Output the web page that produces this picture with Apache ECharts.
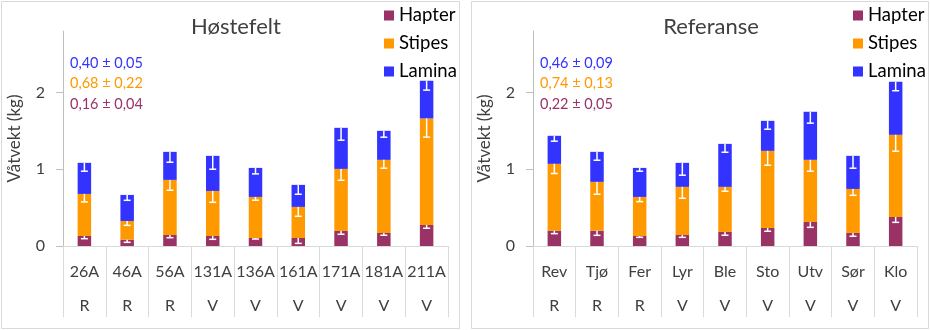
<!DOCTYPE html>
<html>
<head>
<meta charset="utf-8">
<script src="https://cdn.jsdelivr.net/npm/echarts@6/dist/echarts.min.js"></script>
<style>
html,body{margin:0;padding:0;background:#fff;}
#chart{width:930px;height:330px;}
</style>
</head>
<body>
<div id="chart"></div>
<script>
// ---- Data: Høstefelt panel ----
const titleH = 'Høstefelt';
const catsH = ['26A','46A','56A','131A','136A','161A','171A','181A','211A'];
const groupsH = ['R','R','R','V','V','V','V','V','V'];
const hapterH = [0.13, 0.083, 0.143, 0.13, 0.104, 0.104, 0.196, 0.17, 0.274];
const stipesH = [0.548, 0.243, 0.718, 0.587, 0.535, 0.405, 0.808, 0.952, 1.387];
const laminaH = [0.405, 0.339, 0.365, 0.457, 0.378, 0.287, 0.535, 0.378, 0.491];
const errHapterH = [0.035, 0.035, 0.035, 0.043, 0.013, 0.07, 0.043, 0.03, 0.043];
const errStipesH = [0.104, 0.057, 0.135, 0.148, 0.043, 0.122, 0.148, 0.109, 0.243];
const errLaminaH = [0.109, 0.07, 0.135, 0.174, 0.078, 0.122, 0.161, 0.083, 0.122];
const annotH = ['0,40 ± 0,05', '0,68 ± 0,22', '0,16 ± 0,04'];

// ---- Data: Referanse panel ----
const titleR = 'Referanse';
const catsR = ['Rev','Tjø','Fer','Lyr','Ble','Sto','Utv','Sør','Klo'];
const groupsR = ['R','R','R','V','V','V','V','V','V'];
const hapterR = [0.2, 0.2, 0.13, 0.143, 0.183, 0.235, 0.313, 0.17, 0.378];
const stipesR = [0.87, 0.635, 0.509, 0.627, 0.587, 1.004, 0.809, 0.573, 1.07];
const laminaR = [0.365, 0.391, 0.378, 0.313, 0.56, 0.391, 0.626, 0.431, 0.691];
const errHapterR = [0.039, 0.061, 0.017, 0.03, 0.043, 0.043, 0.07, 0.043, 0.07];
const errStipesR = [0.126, 0.161, 0.061, 0.148, 0.057, 0.187, 0.148, 0.083, 0.213];
const errLaminaR = [0.07, 0.109, 0.043, 0.161, 0.109, 0.109, 0.148, 0.161, 0.117];
const annotR = ['0,46 ± 0,09', '0,74 ± 0,13', '0,22 ± 0,05'];

const seriesNames = ['Hapter','Stipes','Lamina'];
const yTicks = [0, 1, 2];
const yName = 'Våtvekt (kg)';

// ---- Styles ----
const COLORS = {Hapter:'#993366', Stipes:'#FF9900', Lamina:'#3333FF'};
const annotColors = ['#3333FF', '#FF9900', '#993366'];
const FONT = 'Lato, Carlito, Calibri, sans-serif';
const TXT = '#404040';
const AXIS = '#D9D9D9';

function errData(h, s, l, eh, es, el) {
  const out = [];
  for (let i = 0; i < h.length; i++) {
    const t1 = h[i], t2 = h[i] + s[i], t3 = h[i] + s[i] + l[i];
    out.push([i, t1, t1 - eh[i]]);
    out.push([i, t2, t2 - es[i]]);
    out.push([i, t3, t3 - el[i]]);
  }
  return out;
}

function renderErr(params, api) {
  const x = api.value(0);
  const p1 = api.coord([x, api.value(1)]);
  const p2 = api.coord([x, api.value(2)]);
  const hw = 3.5;
  const st = {stroke:'#FFFFFF', lineWidth:1.5};
  return {
    type:'group',
    children:[
      {type:'line', shape:{x1:p1[0], y1:p1[1], x2:p2[0], y2:p2[1]}, style:st},
      {type:'line', shape:{x1:p2[0]-hw, y1:p2[1], x2:p2[0]+hw, y2:p2[1]}, style:st}
    ]
  };
}

function xAxisCfg(idx, cats, groups) {
  return {
    type:'category', gridIndex:idx, data:cats,
    axisLine:{lineStyle:{color:AXIS, width:1}},
    axisTick:{show:true, interval:0, length:71, lineStyle:{color:AXIS}},
    axisLabel:{interval:0, margin:9, lineHeight:34, fontSize:16, color:TXT, fontFamily:FONT,
      formatter:(v, i) => v + '\n' + groups[i]}
  };
}
function yAxisCfg(idx) {
  return {
    type:'value', gridIndex:idx, min:0, max:2.8, interval:1,
    name: yName, nameLocation:'middle', nameGap:40,
    nameTextStyle:{fontSize:17, color:TXT, fontFamily:FONT},
    axisLine:{show:true, lineStyle:{color:'#BFBFBF'}},
    axisTick:{show:true, length:7, customValues:yTicks, lineStyle:{color:'#BFBFBF'}},
    axisLabel:{margin:18, fontSize:16, color:TXT, fontFamily:FONT, customValues:yTicks},
    splitLine:{show:false}
  };
}
function barSeries(idx, stack, name, data) {
  return {type:'bar', name:name, xAxisIndex:idx, yAxisIndex:idx, stack:stack, data:data,
    barWidth:13.5, itemStyle:{color:COLORS[name]}, emphasis:{disabled:true}, animation:false};
}
function legendCfg(left) {
  return {
    data:seriesNames, orient:'vertical', left:left, top:6, padding:0, itemWidth:10, itemHeight:10,
    itemGap:9, icon:'rect', selectedMode:false,
    textStyle:{fontSize:18.5, lineHeight:17, color:'#000', fontFamily:FONT}
  };
}
function annotGraphics(x, texts) {
  const ys = [63.3, 83, 104];
  return texts.map((t, i) => ({
    type:'text', x:x, y:ys[i], z:10,
    style:{text:t, fill:annotColors[i], fontSize:14.5, fontFamily:FONT, verticalAlign:'middle', align:'left'}
  }));
}

const chart = echarts.init(document.getElementById('chart'), null, {renderer:'canvas'});
chart.setOption({
  backgroundColor:'#FFFFFF',
  animation:false,
  title:[
    {text:titleH, left:231, top:11, textAlign:'center', textStyle:{fontSize:22, fontWeight:'normal', color:TXT, fontFamily:FONT}},
    {text:titleR, left:706, top:11, textAlign:'center', textStyle:{fontSize:22, fontWeight:'normal', color:TXT, fontFamily:FONT}}
  ],
  legend:[legendCfg(384), legendCfg(853)],
  grid:[
    {left:63, top:31, width:385, height:215},
    {left:533, top:31, width:384, height:215}
  ],
  xAxis:[xAxisCfg(0, catsH, groupsH), xAxisCfg(1, catsR, groupsR)],
  yAxis:[yAxisCfg(0), yAxisCfg(1)],
  series:[
    barSeries(0, 'h', 'Hapter', hapterH),
    barSeries(0, 'h', 'Stipes', stipesH),
    barSeries(0, 'h', 'Lamina', laminaH),
    barSeries(1, 'r', 'Hapter', hapterR),
    barSeries(1, 'r', 'Stipes', stipesR),
    barSeries(1, 'r', 'Lamina', laminaR),
    {type:'custom', name:'errH', xAxisIndex:0, yAxisIndex:0, z:5, renderItem:renderErr,
      data:errData(hapterH, stipesH, laminaH, errHapterH, errStipesH, errLaminaH), animation:false, silent:true},
    {type:'custom', name:'errR', xAxisIndex:1, yAxisIndex:1, z:5, renderItem:renderErr,
      data:errData(hapterR, stipesR, laminaR, errHapterR, errStipesR, errLaminaR), animation:false, silent:true}
  ],
  graphic:[
    {type:'rect', shape:{x:1.5, y:1.5, width:458, height:327}, style:{fill:'none', stroke:'#D9D9D9', lineWidth:1}, z:0},
    {type:'rect', shape:{x:471.5, y:1.5, width:457, height:327}, style:{fill:'none', stroke:'#D9D9D9', lineWidth:1}, z:0}
  ].concat(annotGraphics(70, annotH), annotGraphics(540, annotR))
});
</script>
</body>
</html>
